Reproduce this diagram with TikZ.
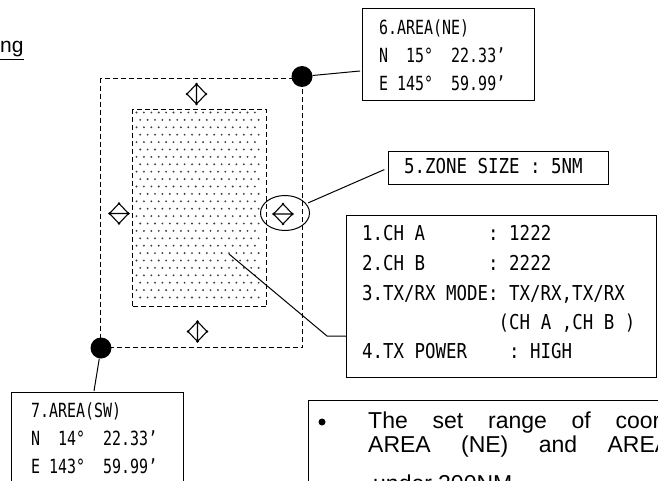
\documentclass[tikz,border=0pt]{standalone}
\usepackage{fontspec}
\usepackage{graphicx}
\usetikzlibrary{shapes.geometric}
\setmainfont{Liberation Sans}
\newfontfamily\gmono{DejaVu Sans Mono}
\newcommand\cfgline[4]{\node[ctxt] (#1) at (#2,#3) {\scalebox{0.851}[1]{#4}};}
\newcommand\arealine[4]{\node[atxt] (#1) at (#2,#3) {\scalebox{0.767}[1]{#4}};}
\newcommand\bword[4]{\node[btxt] (#1) at (#2,#3) {#4};}
\begin{document}
\frenchspacing
\begin{tikzpicture}[x=1pt,y=-1pt,
  ctxt/.style={anchor=base west,inner sep=0pt,font=\gmono\fontsize{20.5}{21}\selectfont},
  atxt/.style={anchor=base west,inner sep=0pt,font=\gmono\fontsize{19.5}{20}\selectfont},
  btxt/.style={anchor=base west,inner sep=0pt,font=\fontsize{23}{24}\selectfont},
  box/.style={draw,line width=1pt,inner sep=0pt,anchor=north west},
  zone/.style={draw,line width=1.1pt,dash pattern=on 5pt off 3pt,inner sep=0pt,anchor=north west},
  leader/.style={line width=1pt},
  bigdot/.style={circle,fill,inner sep=0pt,minimum size=21pt},
  vdia/.pic={\draw[line width=1.1pt] (-9.5,0) -- (0,-10) -- (9.5,0) -- (0,10) -- cycle (0,-10) -- (0,10);
    \foreach \p in {(-9.5,0),(0,-10),(9.5,0),(0,10)} \fill \p circle (1.3pt);},
  hdia/.pic={\draw[line width=1.1pt] (-9.5,0) -- (0,-10) -- (9.5,0) -- (0,10) -- cycle (-9.5,0) -- (9.5,0);
    \foreach \p in {(-9.5,0),(0,-10),(9.5,0),(0,10)} \fill \p circle (1.3pt);}
]
\useasboundingbox (0,0) rectangle (658,481);
\clip (0,0) rectangle (658,481);
\fill[white] (0,0) rectangle (658,481);

% heading fragment
\node[anchor=base west,inner sep=0pt,font=\fontsize{21}{24}\selectfont] (head) at (0,53) {\underline{ng}};

% dotted area
\foreach \i in {0,...,16} \foreach \j in {0,...,25}
  \fill[black!75] ({136.5+7.4*\i+mod(\j,2)*3.7},{112.5+7.4*\j}) circle (1.05pt);
\node[zone,minimum width=134pt,minimum height=197pt] (inner) at (132,109) {};
\node[zone,minimum width=202pt,minimum height=269pt] (outer) at (100,78) {};

% direction markers
\pic at (196.5,94) {vdia};
\pic at (197.5,331.5) {vdia};
\pic at (119,213.5) {hdia};
\pic at (283,214) {hdia};
\node[draw,ellipse,line width=1pt,inner sep=0pt,minimum width=49pt,minimum height=35pt] (zoneell) at (285,213) {};

% corner dots
\node[bigdot] (nedot) at (302,76.5) {};
\node[bigdot] (swdot) at (101,348) {};

% boxes
\node[box,minimum width=172pt,minimum height=92pt] (nebox) at (362,8) {};
\node[box,minimum width=220pt,minimum height=33pt] (zonebox) at (388,151) {};
\node[box,minimum width=310pt,minimum height=162pt] (cfgbox) at (346,215) {};
\node[box,minimum width=172pt,minimum height=120pt] (swbox) at (11,392) {};
\node[box,minimum width=420pt,minimum height=150pt] (notebox) at (308,400) {};

% leaders
\coordinate (nel) at (360,71);
\draw[leader] (nedot) -- (nel);
\coordinate (swl) at (94,391);
\draw[leader] (swdot) -- (swl);
\draw[leader,shorten <=2pt,shorten >=4pt] (zoneell) -- (zonebox.west);
\coordinate (cfa) at (229,254);
\coordinate (cfb) at (327,336);
\draw[leader] (cfa) -- (cfb) -- (cfgbox.west |- cfb);

% NE box text
\arealine{ne1}{379}{35}{6.AREA(NE)}
\arealine{ne2}{379}{63}{N~~15°~~22.33’}
\arealine{ne3}{379}{91}{E~145°~~59.99’}

% zone size
\cfgline{zt}{404}{174}{5.ZONE~SIZE~:~5NM}

% config box
\cfgline{c1}{362}{240}{1.CH~A~~~~~~:~1222}
\cfgline{c2}{362}{270}{2.CH~B~~~~~~:~2222}
\cfgline{c3}{362}{300}{3.TX/RX~MODE:~TX/RX,TX/RX}
\cfgline{c4}{362}{329}{~~~~~~~~~~~~~(CH~A~,CH~B~)}
\cfgline{c5}{362}{358}{4.TX~POWER~~~~:~HIGH}

% SW box text
\arealine{s1}{31}{417}{7.AREA(SW)}
\arealine{s2}{31}{445}{N~~14°~~22.33’}
\arealine{s3}{31}{473}{E~143°~~59.99’}

% note box
\node[circle,fill,inner sep=0pt,minimum size=7pt] (bul) at (322,422) {};
\bword{w1}{368}{428}{The}
\bword{w2}{432.4}{428}{set}
\bword{w3}{487.9}{428}{range}
\bword{w4}{571.4}{428}{of}
\bword{w5}{615.3}{428}{coor}
\bword{w6}{368}{452}{AREA}
\bword{w7}{460.9}{452}{(NE)}
\bword{w8}{538.6}{452}{and}
\bword{w9}{607.4}{452}{AREA}
\bword{w10}{373}{491}{under}
\bword{w11}{438}{491}{200NM}
\end{tikzpicture}
\end{document}
